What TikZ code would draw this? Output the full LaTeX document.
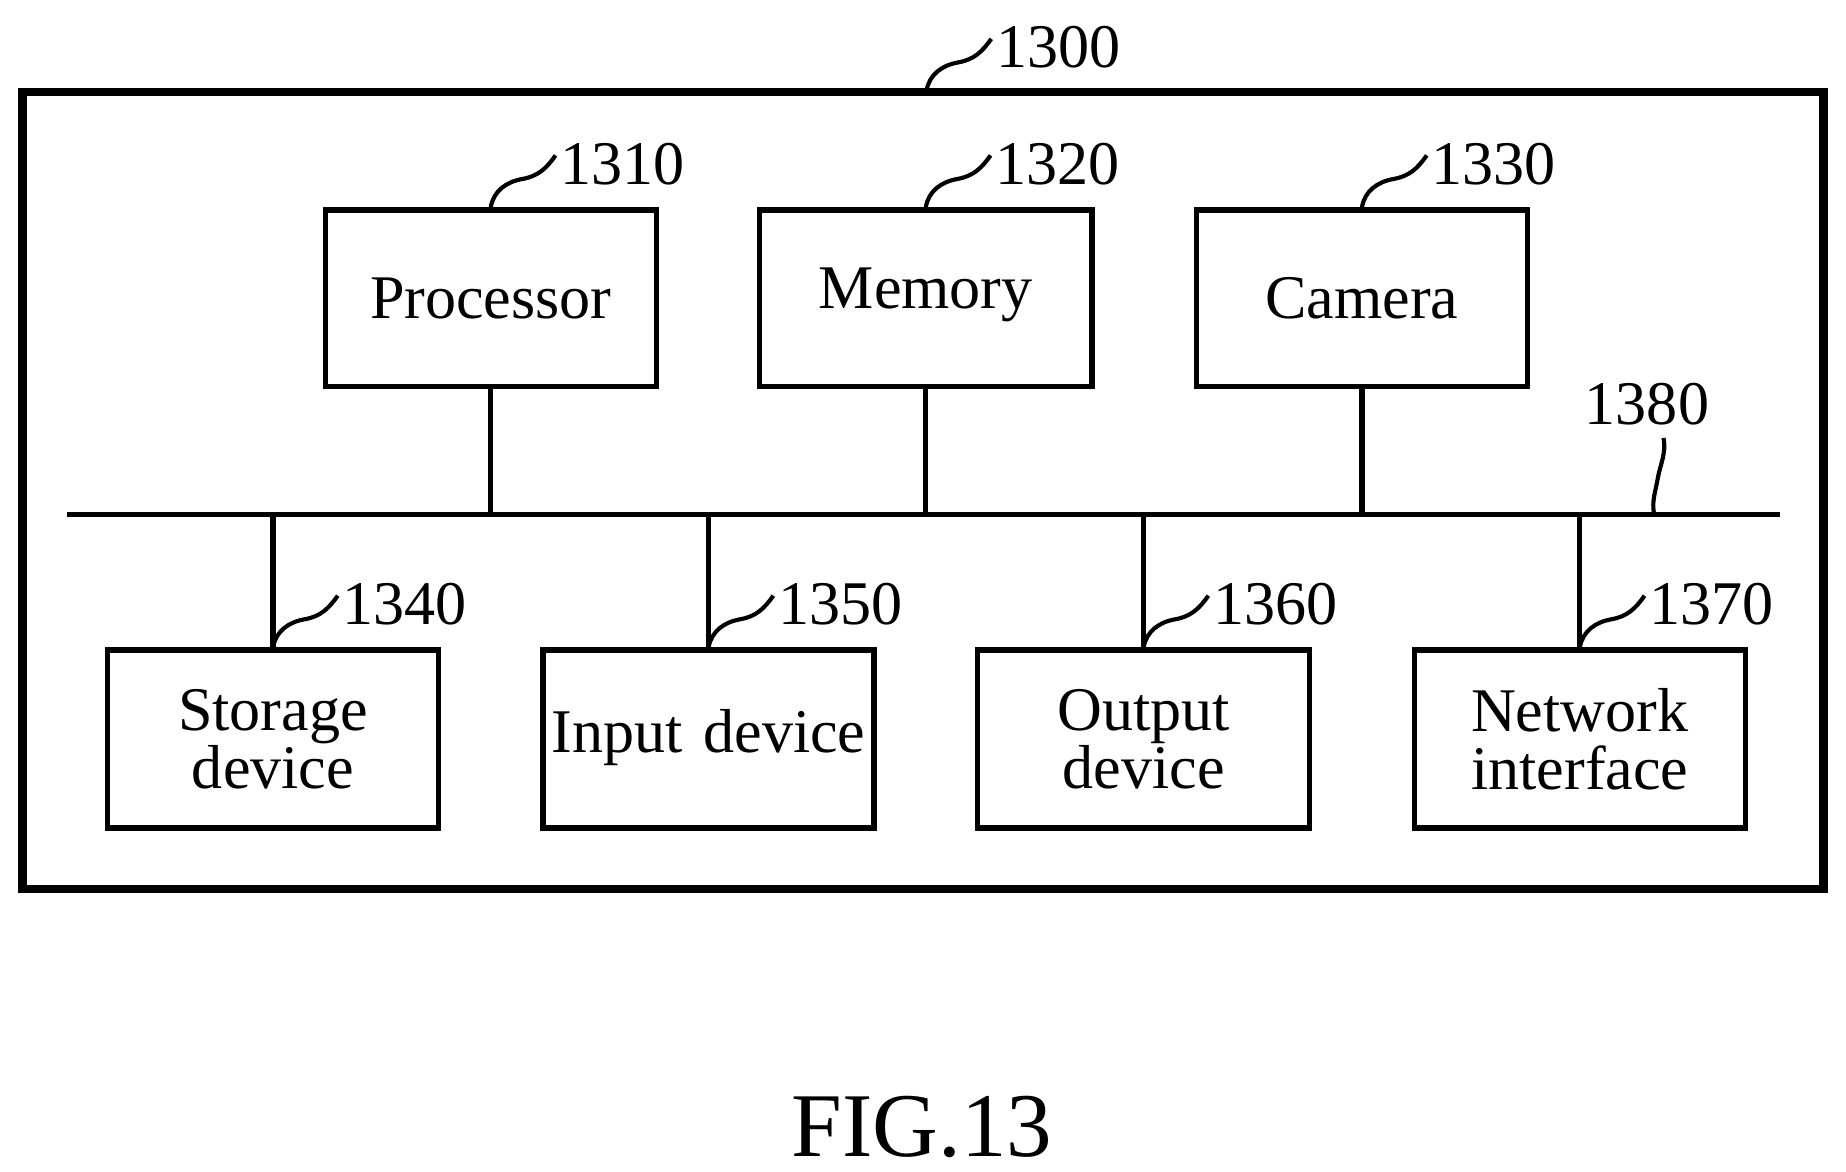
\documentclass[tikz,border=0pt]{standalone}
\usepackage{fontspec}
\setmainfont{Liberation Serif}
\begin{document}
\begin{tikzpicture}[x=0.01cm,y=-0.01cm,
  box/.style={draw,line width=1.3pt,minimum width=2.81cm,minimum height=1.5cm,anchor=north west,align=center,font=\fontsize{15}{14}\selectfont,inner sep=0pt,text width=2.7cm},
  lab/.style={font=\fontsize{15}{15}\selectfont,anchor=west,inner sep=1pt},
  ln/.style={line width=1.3pt},
  sq/.style={line width=1pt}]
\useasboundingbox (0,0) rectangle (1568,995);
\draw[line width=2pt] (19,78) rectangle (1549,755);
\node[box] (p) at (274,176) {Processor};
\node[box,minimum width=2.82cm] (m) at (643,176) {\raisebox{5pt}{Memory}};
\node[box] (c) at (1014,176) {Camera};
\node[box,minimum height=1.51cm] (s) at (89,550) {Storage\\device};
\node[box,minimum height=1.51cm] (i) at (459,550) {\raisebox{4pt}{Input device}};
\node[box,minimum width=2.82cm,minimum height=1.51cm] (o) at (828,550) {Output\\device};
\node[box,minimum height=1.51cm] (n) at (1199,550) {Network\\interface};
\coordinate (bl) at (57,437); \coordinate (br) at (1512,437);
\draw[ln] (bl) -- (br);
\foreach \b in {p,m,c,s,i,o,n}{\draw[ln] (\b) -- (\b |- bl);}
\foreach \b/\t in {p/1310,m/1320,c/1330,s/1340,i/1350,o/1360,n/1370}{
  \draw[sq] (\b.north) to[out=80,in=190] ++(27,-24) to[out=10,in=235] ++(28,-20) coordinate (\b l);
  \node[lab] at ([xshift=0pt,yshift=-2pt]\b l) {\t};}
\draw[sq] (787,77) to[out=80,in=190] ++(27,-24) to[out=10,in=235] ++(28,-20) coordinate (tl);
\node[lab] at ([yshift=-2pt]tl) {1300};
\coordinate (bb) at (1405,437);
\draw[sq] (bb) to[out=100,in=260] ++(3,-30) to[out=80,in=280] ++(5,-35) coordinate (bt);
\node[font=\fontsize{15}{15}\selectfont,anchor=south,inner sep=1pt] at ([xshift=-4pt,yshift=2pt]bt) {1380};
\node[font=\fontsize{22}{22}\selectfont] (fig) at (783,957) {FIG.13};
\end{tikzpicture}
\end{document}
